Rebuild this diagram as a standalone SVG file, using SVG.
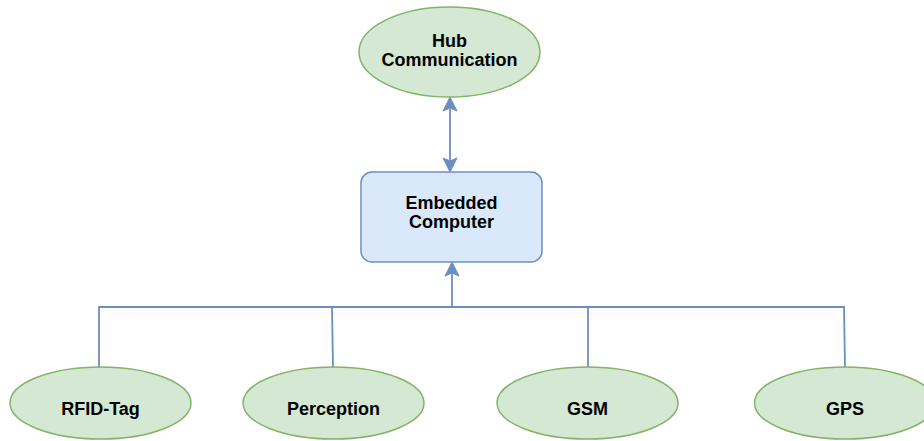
<svg xmlns="http://www.w3.org/2000/svg" width="924" height="441" viewBox="0 0 924 441">
<style>
.g{fill:#d5e8d4;stroke:#82b366;stroke-width:1.5}
.b{fill:#dae8fc;stroke:#6c8ebf;stroke-width:1.5}
.t{font-family:"Liberation Sans",Arial,sans-serif;font-weight:bold;font-size:18px;fill:#000;text-anchor:middle}
.c{fill:none;stroke:#6c8ebf;stroke-width:1.8}
.ah{fill:#6c8ebf;stroke:#6c8ebf;stroke-width:1}
</style>
<rect width="924" height="441" fill="#fff"/>
<g id="connectors">
<path class="c" d="M450 108V161"/>
<path class="ah" d="M450 97L457 111L450 108L443 111Z"/>
<path class="ah" d="M450 172L457 158L450 161L443 158Z"/>
<path class="c" d="M452 307V273"/>
<path class="ah" d="M452 262L459 276L452 273L445 276Z"/>
<path class="c" d="M99 367V307H844L845 367"/>
<path class="c" d="M332 307L333 367"/>
<path class="c" d="M588 307V367"/>
</g>
<g id="hub">
<ellipse class="g" cx="449.5" cy="52" rx="90.5" ry="45"/>
<text class="t" x="449.5" y="47">Hub</text>
<text class="t" x="449.5" y="66">Communication</text>
</g>
<g id="embedded">
<rect class="b" x="361" y="172" width="181" height="90" rx="11"/>
<text class="t" x="451.5" y="209">Embedded</text>
<text class="t" x="451.5" y="228">Computer</text>
</g>
<g id="rfid">
<ellipse class="g" cx="100.5" cy="403" rx="90.5" ry="36"/>
<text class="t" x="100.5" y="415">RFID-Tag</text>
</g>
<g id="perception">
<ellipse class="g" cx="333.5" cy="403" rx="90.5" ry="36"/>
<text class="t" x="333.5" y="415">Perception</text>
</g>
<g id="gsm">
<ellipse class="g" cx="587.5" cy="403" rx="90.5" ry="36"/>
<text class="t" x="587.5" y="415">GSM</text>
</g>
<g id="gps">
<ellipse class="g" cx="845" cy="403" rx="90.5" ry="36"/>
<text class="t" x="845" y="415">GPS</text>
</g>
</svg>
